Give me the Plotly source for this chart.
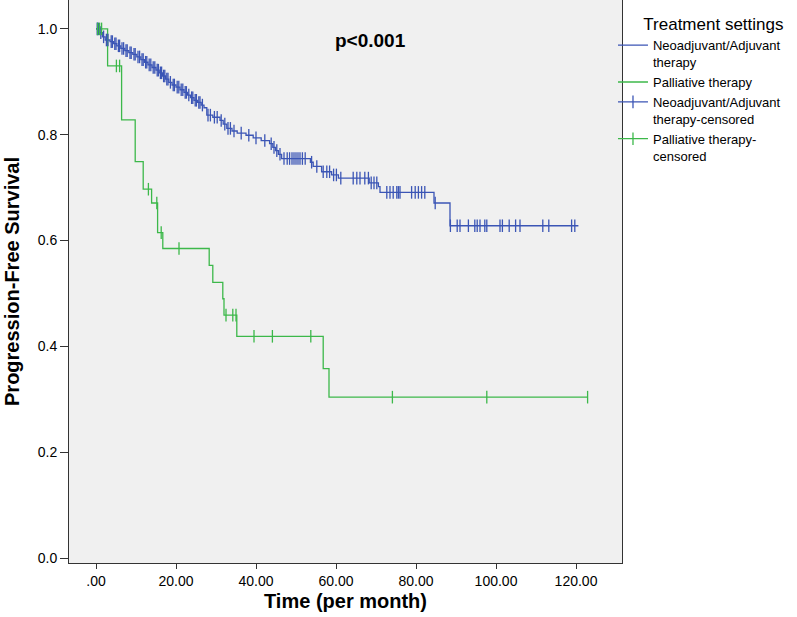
import plotly.graph_objects as go
from bisect import bisect_right

# ---- data ----
blue_event_t = [0.8, 1.6, 2.3, 3.5, 4.4, 5.2, 6.2, 7.2, 8.2, 9.2, 10.2, 11.2, 12.1, 13.0, 14.0,
                15.0, 15.8, 16.6, 17.4, 18.2, 19.0, 20.0, 21.0, 22.0, 22.9, 23.6, 24.5, 25.4, 26.3, 27.0,
                27.7, 29.2, 31.0, 31.8, 32.7, 34.0, 35.3, 37.5, 39.3, 41.3, 43.4, 44.2, 44.9, 45.6, 46.4,
                53.6, 54.3, 56.4, 58.9, 60.6, 68.3, 70.6, 71.0, 84.5, 88.5]
blue_event_s = [0.993, 0.985, 0.979, 0.976, 0.972, 0.968, 0.963, 0.959, 0.955, 0.952, 0.947, 0.942, 0.937, 0.932, 0.927,
                0.922, 0.917, 0.911, 0.905, 0.899, 0.894, 0.890, 0.885, 0.880, 0.875, 0.870, 0.865, 0.861, 0.856, 0.851,
                0.837, 0.833, 0.827, 0.820, 0.812, 0.807, 0.803, 0.799, 0.794, 0.789, 0.783, 0.776, 0.770, 0.763, 0.755,
                0.748, 0.740, 0.730, 0.724, 0.718, 0.709, 0.702, 0.691, 0.671, 0.628]
blue_end_t = 120.6
blue_cens_t = [0.3, 0.6, 1.2, 1.9, 2.6, 3.0, 3.8, 4.1, 4.7, 5.0, 5.6, 5.9, 6.5, 6.9, 7.5, 7.8, 8.5, 8.8,
               9.5, 9.8, 10.5, 10.9, 11.5, 11.8, 12.4, 12.7, 13.3, 13.7, 14.3, 14.7, 15.3, 15.6, 16.1, 16.4,
               16.9, 17.2, 17.7, 18.0, 18.6, 19.3, 19.6, 20.3, 20.7, 21.3, 21.7, 22.3, 22.6, 23.2, 23.9, 24.2,
               24.8, 25.1, 25.7, 26.0, 26.6, 28.0, 28.6, 29.6, 30.3, 31.3, 32.2, 33.0, 33.6, 34.5, 36.3, 38.2,
               40.0, 42.2, 43.8, 44.5, 45.2, 46.0, 47.0, 47.8, 48.4, 49.0, 49.5, 50.0, 50.5, 51.0, 51.6, 52.3,
               53.9, 55.2, 56.8, 57.7, 58.4, 59.4, 60.1, 61.2, 64.3, 65.2, 66.0, 67.2, 68.1, 68.8, 69.5, 70.2,
               72.7, 73.5, 74.3, 75.2, 75.6, 76.0, 78.9, 79.8, 80.6, 81.4, 82.2, 84.8, 88.6, 90.3, 91.0, 93.1,
               94.7, 95.3, 96.0, 97.2, 97.7, 101.0, 101.6, 103.3, 104.9, 106.0, 111.7, 113.2, 118.9, 119.7]

green_event_t = [2.9, 6.4, 9.8, 11.8, 13.9, 15.4, 16.7, 28.3, 29.2, 31.7, 32.0, 35.2, 56.8, 58.25]
green_event_s = [0.930, 0.828, 0.749, 0.697, 0.671, 0.615, 0.585, 0.553, 0.521, 0.490, 0.459, 0.419, 0.358, 0.304]
green_end_t = 122.9
green_cens_t = [0.4, 0.9, 1.4, 5.1, 5.9, 13.1, 15.2, 16.3, 20.75, 32.5, 34.2, 35.0, 39.5, 44.1, 53.7,
                74.1, 97.7, 122.9]

x_tickvals = [0, 20, 40, 60, 80, 100, 120]
x_ticktext = [".00", "20.00", "40.00", "60.00", "80.00", "100.00", "120.00"]
y_tickvals = [0.0, 0.2, 0.4, 0.6, 0.8, 1.0]

names = ["Neoadjuvant/Adjuvant<br>therapy", "Palliative therapy",
         "Neoadjuvant/Adjuvant<br>therapy-censored", "Palliative therapy-<br>censored"]

BLUE = "#3b55b5"
GREEN = "#3cb84a"
FONT = "Liberation Sans, Arial, sans-serif"


def step_line(ev_t, ev_s, end_t):
    xs = [0.0] + list(ev_t) + [end_t]
    ys = [1.0] + list(ev_s) + [ev_s[-1]]
    return xs, ys


def level_at(ev_t, ev_s, t):
    i = bisect_right(ev_t, t)
    return 1.0 if i == 0 else ev_s[i - 1]


def censor_xy(ev_t, ev_s, cens):
    xs, ys = [], []
    for t in cens:
        xs += [t, None]
        ys += [level_at(ev_t, ev_s, t), None]
    return xs, ys


fig = go.Figure()

bx, by = step_line(blue_event_t, blue_event_s, blue_end_t)
gx, gy = step_line(green_event_t, green_event_s, green_end_t)
fig.add_trace(go.Scatter(x=bx, y=by, mode="lines", line=dict(color=BLUE, width=1.3, shape="hv"),
                         name=names[0]))
fig.add_trace(go.Scatter(x=gx, y=gy, mode="lines", line=dict(color=GREEN, width=1.3, shape="hv"),
                         name=names[1]))

bcx, bcy = censor_xy(blue_event_t, blue_event_s, blue_cens_t)
gcx, gcy = censor_xy(green_event_t, green_event_s, green_cens_t)
fig.add_trace(go.Scatter(x=bcx, y=bcy, mode="lines+markers", connectgaps=False,
                         line=dict(color=BLUE, width=1.3),
                         marker=dict(symbol="line-ns-open", size=9, line=dict(color=BLUE, width=1.3)),
                         name=names[2]))
fig.add_trace(go.Scatter(x=gcx, y=gcy, mode="lines+markers", connectgaps=False,
                         line=dict(color=GREEN, width=1.3),
                         marker=dict(symbol="line-ns-open", size=9, line=dict(color=GREEN, width=1.3)),
                         name=names[3]))

fig.add_annotation(x=68.5, y=0.979, xref="x", yref="y", text="<b>p<0.001</b>", showarrow=False,
                   font=dict(family=FONT, size=19, color="#000"))

fig.update_layout(
    width=797, height=617,
    margin=dict(l=69, r=175, t=0, b=54),
    paper_bgcolor="white", plot_bgcolor="#f0f0f0",
    font=dict(family=FONT, size=14, color="#000"),
    showlegend=True,
    legend=dict(x=0.9837, xanchor="left", y=0.9855, yanchor="top", valign="top",
                font=dict(family=FONT, size=13, color="#000"),
                title=dict(text="\u00a0\u00a0\u00a0\u00a0\u00a0\u00a0Treatment settings",
                           font=dict(family=FONT, size=17)),
                itemwidth=30, tracegroupgap=0, bgcolor="rgba(0,0,0,0)"),
    xaxis=dict(range=[-6.75, 131.5], tickvals=x_tickvals, ticktext=x_ticktext,
               automargin=False,
               showgrid=False, zeroline=False, showline=True, mirror=True,
               linecolor="#333", linewidth=1, ticks="outside", ticklen=5, tickcolor="#333",
               tickfont=dict(size=14),
               title=dict(text="<b>Time (per month)</b>", font=dict(size=20), standoff=6)),
    yaxis=dict(range=[-0.0094, 1.0546], tickvals=y_tickvals, tickformat=".1f",
               automargin=False,
               showgrid=False, zeroline=False, showline=True, mirror=True,
               linecolor="#333", linewidth=1, ticks="outside", ticklen=8, tickcolor="#333",
               tickfont=dict(size=14),
               title=dict(text="<b>Progression-Free Survival</b>", font=dict(size=20), standoff=12)),
)

fig.write_html("out.html", config={"displayModeBar": False},
               post_script="document.body.style.margin='0px';")
